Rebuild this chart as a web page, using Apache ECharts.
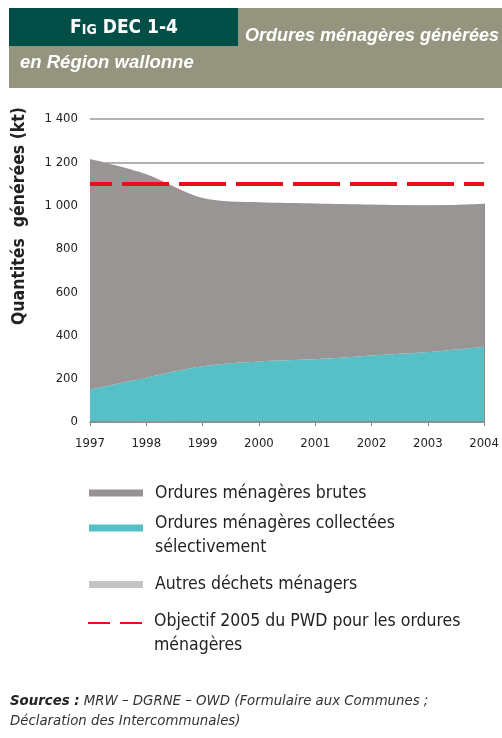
<!DOCTYPE html>
<html>
<head>
<meta charset="utf-8">
<script src="https://cdn.jsdelivr.net/npm/echarts@6/dist/echarts.min.js"></script>
<style>
  html, body { margin: 0; padding: 0; background: #fff; }
  #chart { width: 502px; height: 738px; }
</style>
</head>
<body>
<div id="chart"></div>
<script>
  // données (kt)
  var years = ['1997', '1998', '1999', '2000', '2001', '2002', '2003', '2004'];
  var brutes = [1065, 940, 777, 735, 720, 698, 677, 660];
  var collectees = [150, 205, 258, 280, 290, 307, 323, 348];
  var autres = [0, 4, 0, 0, 0, 0, 0, 0];
  var objectif = [1100, 1100, 1100, 1100, 1100, 1100, 1100, 1100];
  var yTicks = [0, 200, 400, 600, 800, 1000, 1200, 1400];

  var narrow = '"DejaVu Sans Condensed", "Liberation Sans", sans-serif';
  var sans = '"Liberation Sans", Arial, sans-serif';

  var names = {
    brutes: 'Ordures ménagères brutes',
    coll: 'Ordures ménagères collectées\nsélectivement',
    autres: 'Autres déchets ménagers',
    obj: 'Objectif 2005 du PWD pour les ordures\nménagères'
  };

  // une légende par entrée pour caler chaque ligne ; spacer = ligne vide en tête
  function legendItem(name, top, spacer, extra) {
    var l = {
      data: [name],
      left: 89,
      top: top,
      padding: 0,
      orient: 'vertical',
      itemWidth: 54,
      itemHeight: 7,
      icon: 'rect',
      selectedMode: false,
      formatter: function (n) {
        var lines = n.split('\n').map(function (s) { return '{t|' + s + '}'; }).join('\n');
        return spacer ? '{sp|\u00a0}\n' + lines : lines;
      },
      textStyle: {
        color: '#222', padding: [0, 0, 0, 7],
        rich: {
          t: { fontFamily: narrow, fontSize: 17.5, lineHeight: 24, color: '#222' },
          sp: { fontSize: 2, lineHeight: spacer || 1 }
        }
      }
    };
    for (var k in extra) l[k] = extra[k];
    return l;
  }

  var chart = echarts.init(document.getElementById('chart'), null, { renderer: 'canvas' });
  chart.setOption({
    animation: false,
    backgroundColor: '#fff',
    graphic: [
      { type: 'rect', shape: { x: 9, y: 8, width: 493, height: 80 }, style: { fill: '#95957f' } },
      { type: 'rect', shape: { x: 9, y: 8, width: 229, height: 38 }, style: { fill: '#034e47' } },
      { type: 'text', x: 124, y: 28, style: {
          text: 'F{s|IG} DEC 1-4', fill: '#fff', font: 'bold 19px ' + narrow,
          rich: { s: { font: 'bold 14px ' + narrow, fill: '#fff', verticalAlign: 'bottom' } },
          textAlign: 'center', textVerticalAlign: 'middle' } },
      { type: 'text', x: 245, y: 36, style: { text: 'Ordures ménagères générées', fill: '#fff', font: 'italic bold 18px ' + sans, textVerticalAlign: 'middle' } },
      { type: 'text', x: 20, y: 63, style: { text: 'en Région wallonne', fill: '#fff', font: 'italic bold 18.5px ' + sans, textVerticalAlign: 'middle' } },
      { type: 'text', x: 19, y: 216, rotation: Math.PI / 2, style: {
          text: 'Quantités  générées (kt)', fill: '#222', font: 'bold 17.5px ' + narrow,
          textAlign: 'center', textVerticalAlign: 'middle' } },
      { type: 'text', x: 10, y: 691, style: {
          text: '{b|Sources :} MRW – DGRNE – OWD (Formulaire aux Communes ;\nDéclaration des Intercommunales)',
          rich: { b: { font: 'italic bold 14.8px ' + narrow, fill: '#222' } },
          font: 'italic 14.8px ' + narrow, fill: '#333', lineHeight: 20, textVerticalAlign: 'top' } }
    ],
    legend: [
      legendItem(names.brutes, 484, 0, {}),
      legendItem(names.coll, 503, 14, {}),
      legendItem(names.autres, 575.5, 0, {}),
      legendItem(names.obj, 598, 20, {
        left: 87, icon: null, itemStyle: { opacity: 0 },
        lineStyle: { type: [22, 10], width: 2, dashOffset: 0 }
      })
    ],
    grid: { left: 90, right: 14, top: 119, bottom: 316, containLabel: false },
    xAxis: {
      type: 'category',
      data: years,
      boundaryGap: false,
      axisLine: { lineStyle: { color: '#888', width: 1.5 } },
      axisTick: { show: true, length: 4, lineStyle: { color: '#888' } },
      axisLabel: { fontFamily: narrow, fontSize: 13, color: '#222', margin: 15 },
      z: 10
    },
    yAxis: {
      type: 'value',
      min: 0, max: 1400, interval: 200,
      axisLine: { show: false },
      axisTick: { show: false },
      splitLine: { lineStyle: { color: '#999', width: 1.5 } },
      axisLabel: {
        fontFamily: narrow, fontSize: 13, color: '#222', margin: 12,
        formatter: function (v) { return yTicks.indexOf(v) >= 0 ? String(v).replace(/\B(?=(\d{3})+(?!\d))/g, ' ') : ''; }
      }
    },
    series: [
      {
        name: names.coll, type: 'line', stack: 'om', data: collectees,
        smooth: 0.3, symbol: 'none', color: '#56c0c6',
        lineStyle: { width: 0 }, areaStyle: { color: '#56c0c6', opacity: 1 }
      },
      {
        name: names.brutes, type: 'line', stack: 'om', data: brutes,
        smooth: 0.3, symbol: 'none', color: '#979393',
        lineStyle: { width: 0 }, areaStyle: { color: '#999595', opacity: 1 },
        markLine: {
          silent: true, symbol: 'none', label: { show: false },
          lineStyle: { color: '#8a8a8a', width: 1, type: 'solid' },
          data: [[
            { coord: [years[years.length - 1], 0] },
            { coord: [years[years.length - 1], brutes[brutes.length - 1] + collectees[collectees.length - 1]] }
          ]]
        }
      },
      {
        name: names.autres, type: 'line', data: autres,
        smooth: 0.3, symbol: 'none', color: '#c4c4c4', z: 5,
        lineStyle: { width: 0 }, areaStyle: { color: '#c4c4c4', opacity: 1 }
      },
      {
        name: names.obj, type: 'line', data: objectif,
        symbol: 'none', color: '#e5101c', z: 6,
        lineStyle: { color: '#e5101c', width: 4, type: [47, 10], dashOffset: 25 }
      }
    ]
  });
</script>
</body>
</html>
